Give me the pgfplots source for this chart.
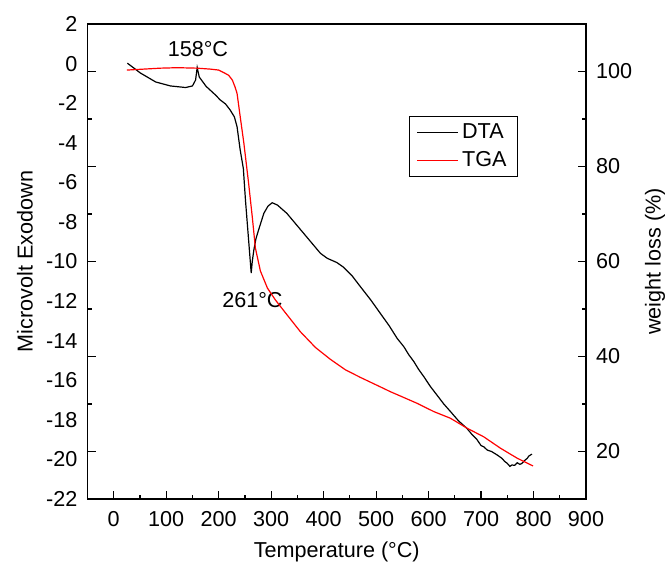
\documentclass[border=0pt]{standalone}
\usepackage{fontspec}
\setmainfont{Liberation Sans}
\usepackage{pgfplots}
\pgfplotsset{compat=1.18}

\newcommand\fs{\fontsize{10.8}{12.5}\selectfont}

\pgfplotsset{
  common/.style={
    scale only axis, width=249.25pt, height=237.5pt,
    xmin=-50, xmax=900,
    tick align=inside,
    major tick length=4pt, minor tick length=2pt,
    axis line style={line width=0.6pt},
    every tick/.style={black, line width=0.6pt},
    tick label style={font=\fs},
    /pgf/number format/assume math mode=true,
  },
}

\begin{document}
\begin{tikzpicture}
\begin{axis}[
  common, name=main,
  ymin=-22, ymax=2,
  xtick={0,100,...,900}, minor x tick num=1,
  ytick={-22,-20,...,2},
  xtick pos=bottom,
  ytick style={draw=none},
  xticklabel style={yshift=-2.5pt},
  yticklabel style={xshift=-1.5pt},
  every axis x label/.style={at={(axis description cs:0.5,0)}, yshift=-26.5pt, anchor=center, inner sep=0pt, font=\fs},
  every axis y label/.style={at={(axis description cs:0,0.5)}, xshift=-31.25pt, rotate=90, anchor=center, inner sep=0pt, font=\fs},
  xlabel={Temperature (°C)},
  ylabel={Microvolt Exodown},
  clip=false,
]
\addplot[black, line width=0.6pt] coordinates {
  (26,0.02) (51,-0.48) (80,-0.93) (108,-1.13) (137,-1.21) (150,-1.13)
  (156,-0.83) (159,-0.2) (163,-0.68) (176,-1.15) (194,-1.59) (203,-1.84)
  (213,-2.04) (222,-2.35) (230,-2.7) (235,-3.19) (241,-4.37) (247,-5.30)
  (251,-6.89) (257,-8.91) (262,-10.59) (264,-10.0) (267,-9.42) (271,-8.85)
  (276,-8.41) (286,-7.57) (294,-7.2) (302,-7.03) (312,-7.15) (330,-7.57)
  (362,-8.58) (394,-9.59) (407,-9.84) (425,-10.05) (438,-10.29) (455,-10.75)
  (470,-11.27) (490,-11.95) (508,-12.62) (525,-13.25) (540,-13.88) (553,-14.31)
  (562,-14.70) (572,-15.06) (581,-15.45) (591,-15.82) (603,-16.30) (616,-16.75)
  (629,-17.20) (642,-17.59) (657,-18.05) (673,-18.43) (683,-18.75) (692,-18.99)
  (700,-19.30) (705,-19.36) (712,-19.53) (720,-19.60) (731,-19.78) (740,-19.95)
  (745,-20.1) (750,-20.2) (755,-20.35) (759,-20.28) (764,-20.30) (769,-20.17)
  (774,-20.25) (778,-20.2) (784,-20.03) (788,-19.95) (791,-19.83) (797,-19.73)
};
\node[font=\fs] at (axis cs:160.4,0.71) {158°C};
\node[font=\fs] at (axis cs:264.3,-11.95) {261°C};
\end{axis}

\begin{axis}[
  common,
  ymin=10, ymax=110,
  hide x axis,
  ytick={20,40,...,100}, minor y tick num=1,
  ytick pos=both, yticklabel pos=right,
  yticklabel style={xshift=1.5pt},
  every axis y label/.style={at={(axis description cs:1,0.5)}, xshift=34.5pt, rotate=90, anchor=center, inner sep=0pt, font=\fs},
  ylabel={weight loss (\%)},
  legend style={at={(axis description cs:0.8636,0.806)}, anchor=north east,
    draw=black, line width=0.5pt, font=\fs, inner xsep=3.5pt, inner ysep=1.5pt,
    row sep=1pt, cells={anchor=west}},
  legend image code/.code={\draw[#1] (0pt,0pt) -- (20pt,0pt);},
]
\addlegendimage{black, line width=0.6pt}
\addlegendentry{DTA}
\addplot[red, line width=0.6pt] coordinates {
  (25,100.3) (57,100.5) (89,100.7) (121,100.8) (159,100.7) (184,100.5)
  (200,100.3) (210,99.75) (219,99.2) (226,98.2) (231,96.8) (235,95.4)
  (241,90.5) (248,84.9) (254,79.3) (257,76.5) (264,69.4) (270,62.8)
  (279.5,58.0) (292.9,54.4) (308.1,51.9) (327.2,49.2) (355.8,45.2) (384.4,41.9)
  (412.9,39.4) (441.5,37.2) (470,35.6) (508.2,33.6) (527,32.6) (550,31.5)
  (578,30.15) (610,28.4) (641.6,27.0) (673.4,24.9) (705,23.1) (736.9,20.7)
  (768.7,18.6) (799.2,16.95)
};
\addlegendentry{TGA}
\end{axis}
\path ([xshift=-43.75pt,yshift=-31.5pt]main.south west) rectangle ([xshift=40pt,yshift=12pt]main.north east);
\end{tikzpicture}
\end{document}
